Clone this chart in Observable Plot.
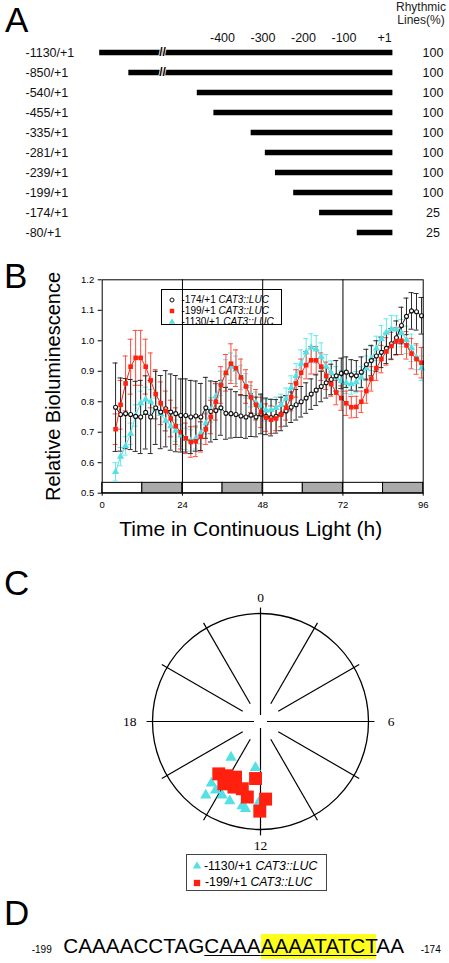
<!DOCTYPE html>
<html>
<head>
<meta charset="utf-8">
<script src="https://cdn.jsdelivr.net/npm/d3@7"></script>
<script src="https://cdn.jsdelivr.net/npm/@observablehq/plot@0.6"></script>
<style>
html,body{margin:0;padding:0;background:#fff;}
#page{position:relative;width:449px;height:963px;overflow:hidden;font-family:"Liberation Sans",Arial,Helvetica,sans-serif;color:#000;}
#page > svg{position:absolute;left:0;}
.abs{position:absolute;white-space:nowrap;}
.letter{font-size:35px;line-height:40px;}
</style>
</head>
<body>
<div id="page"></div>
<script>
// ================= DATA =================
// Panel A: promoter deletion constructs
const constructs = ["-1130/+1","-850/+1","-540/+1","-455/+1","-335/+1","-281/+1","-239/+1","-199/+1","-174/+1","-80/+1"];
const drawnStart = [-723,-651,-482,-441,-349,-314,-289,-244,-180,-87]; // bar start as drawn on the schematic axis
const drawnEnd = 1;
const rhythmicPct = [100,100,100,100,100,100,100,100,25,25];
const axisATicks = [-400,-300,-200,-100,0];
const axisATickLabels = ["-400","-300","-200","-100","+1"];
const brokenRows = ["-1130/+1","-850/+1"];
const breakAt = -568;

// Panel B: bioluminescence time courses
const timeH = [4,5.5,7,8.5,10,11.5,13,14.5,16,17.5,19,20.5,22,23.5,25,26.5,28,29.5,31,32.5,34,35.5,37,38.5,40,41.5,43,44.5,46,47.5,49,50.5,52,53.5,55,56.5,58,59.5,61,62.5,64,65.5,67,68.5,70,71.5,73,74.5,76,77.5,79,80.5,82,83.5,85,86.5,88,89.5,91,92.5,94,95.5];
const bio174 = [0.782,0.758,0.761,0.758,0.752,0.75,0.765,0.75,0.78,0.766, 0.777,0.766,0.761,0.755,0.755,0.75,0.753,0.75,0.78,0.768, 0.771,0.78,0.762,0.761,0.758,0.753,0.75,0.756,0.75,0.76, 0.752,0.748,0.752,0.76,0.77,0.782,0.79,0.80,0.812,0.825, 0.838,0.85,0.862,0.873,0.885,0.893,0.897,0.888,0.885,0.897, 0.922,0.935,0.95,0.962,0.975,0.99,1.01,1.05,1.08,1.098, 1.095,1.082];
const err174 = [0.145,0.12,0.115,0.115,0.115,0.12,0.12,0.12,0.12,0.12, 0.125,0.125,0.125,0.12,0.12,0.12,0.115,0.11,0.1,0.1, 0.095,0.09,0.085,0.08,0.075,0.07,0.07,0.07,0.065,0.065, 0.06,0.06,0.055,0.055,0.05,0.05,0.05,0.05,0.05,0.05, 0.05,0.05,0.05,0.05,0.05,0.05,0.05,0.05,0.05,0.05, 0.05,0.05,0.05,0.05,0.05,0.05,0.055,0.06,0.06,0.06, 0.06,0.06];
const bio199 = [0.71,0.79,0.86,0.915,0.944,0.944,0.915,0.87,0.825,0.795, 0.77,0.745,0.72,0.70,0.68,0.668,0.67,0.685,0.71,0.75, 0.80,0.855,0.895,0.925,0.91,0.88,0.85,0.815,0.79,0.765, 0.748,0.741,0.745,0.758,0.78,0.815,0.86,0.895,0.92,0.936, 0.936,0.915,0.885,0.858,0.83,0.812,0.795,0.782,0.783,0.80, 0.835,0.875,0.91,0.94,0.965,0.983,0.998,1.0,0.985,0.958, 0.94,0.928];
const err199 = [0.05,0.08,0.09,0.09,0.09,0.09,0.09,0.09,0.08,0.07, 0.065,0.06,0.06,0.055,0.05,0.05,0.05,0.05,0.05,0.055, 0.06,0.06,0.06,0.065,0.06,0.06,0.055,0.05,0.05,0.05, 0.045,0.045,0.04,0.04,0.04,0.045,0.045,0.045,0.045,0.045, 0.045,0.045,0.045,0.04,0.04,0.04,0.04,0.035,0.035,0.035, 0.04,0.04,0.04,0.045,0.045,0.045,0.045,0.045,0.045,0.05, 0.05,0.05];
const bio1130 = [0.57,0.62,0.655,0.695,0.755,0.795,0.808,0.80,0.777,0.76, 0.738,0.72,0.705,0.69,0.678,0.673,0.68,0.697,0.73,0.773, 0.818,0.86,0.893,0.915,0.905,0.88,0.852,0.818,0.797,0.787, 0.772,0.773,0.78,0.79,0.81,0.845,0.885,0.925,0.962,0.978, 0.972,0.948,0.915,0.894,0.88,0.868,0.862,0.858,0.864,0.88, 0.91,0.942,0.975,1.005,1.027,1.038,1.037,1.025,1.003,0.977, 0.945,0.91];
const err1130 = [0.03,0.03,0.03,0.035,0.035,0.04,0.04,0.04,0.035,0.035, 0.035,0.035,0.035,0.035,0.035,0.035,0.035,0.035,0.035,0.04, 0.04,0.04,0.045,0.045,0.045,0.04,0.04,0.035,0.035,0.035, 0.035,0.035,0.035,0.035,0.035,0.04,0.04,0.045,0.045,0.045, 0.045,0.045,0.04,0.04,0.035,0.035,0.035,0.035,0.035,0.035, 0.04,0.04,0.04,0.045,0.045,0.045,0.045,0.045,0.045,0.045, 0.04,0.04];
const ldStart = [0,12,24,36,48,60,72,84];
const ldEnd = [12,24,36,48,60,72,84,96];
const ldPhase = ["light","dark","light","dark","light","dark","light","dark"];
const ldBandTop = 0.534;
const timeTicks = [0,24,48,72,96];
const bioTicks = [0.5,0.6,0.7,0.8,0.9,1.0,1.1,1.2];
const dayLines = [24,48,72];

// Panel C: phase (h) and relative amplitude of individual lines
const phase1130 = [14.63,12.42,14.57,14.44,14.21,13.83,13.41,12.82,12.65,12.08];
const amp1130 = [0.43,0.43,0.73,0.85,0.76,0.77,0.79,0.80,0.82,0.75];
const phase199 = [14.57,14.11,13.61,12.33,14.03,13.47,13.01,12.66,11.75,12.03];
const amp199 = [0.62,0.59,0.565,0.53,0.67,0.655,0.645,0.71,0.72,0.83];
const spokeHours = [0,2,4,6,8,10,12,14,16,18,20,22];
const clockLabels = [0,6,12,18];

// Panel D: sequence
const seqFrom = "-199", seqTo = "-174";
const seqHead = "CAAAACCTAG", seqUnder = "CAAA", seqEE = "AAAATATCT", seqTail = "AA";

// ================= STYLE =================
const FONT = '"Liberation Sans", Arial, Helvetica, sans-serif';
const W = 449;
const cRed = "#ff2010", cRedErr = "#ff4c3c";
const cCyan = "#55e0e6", cCyanErr = "#6ae8ec";
const cBlack = "#111", cBlackErr = "#2a2a2a";
const page = document.getElementById("page");
function put(el, top) { el.style.top = top + "px"; page.appendChild(el); return el; }
function html(left, top, inner, style = "") {
  const d = document.createElement("div");
  d.className = "abs";
  d.style.cssText += `left:${left}px;top:${top}px;${style}`;
  d.innerHTML = inner;
  page.appendChild(d);
  return d;
}
const baseStyle = {background: "transparent", fontFamily: FONT, color: "#000", overflow: "visible"};

// ================= PANEL A =================
const rowsA = constructs.map((c, i) => ({label: c, start: drawnStart[i], end: drawnEnd, pct: rhythmicPct[i]}));
const ticksA = axisATicks.map((v, i) => ({v, label: axisATickLabels[i]}));
const breaksA = brokenRows.map(r => ({label: r, at: breakAt}));
const plotA = Plot.plot({
  width: W, height: 250,
  marginLeft: 68, marginRight: 16.5, marginTop: 48.5, marginBottom: 14.3,
  style: baseStyle,
  x: {domain: [-800, 100], axis: null},
  y: {type: "point", domain: constructs, padding: 0, axis: null},
  marks: [
    Plot.ruleY(rowsA, {y: "label", x1: "start", x2: "end", stroke: "#000", strokeWidth: 5.5}),
    Plot.text(breaksA, {x: "at", y: "label", text: () => "//", fontSize: 12, fontWeight: "bold", fill: "#000", stroke: "#fff", strokeWidth: 1.6, paintOrder: "stroke"}),
    Plot.text(rowsA, {y: "label", text: "label", frameAnchor: "left", textAnchor: "start", dx: -43, fontSize: 12.5, fill: "#111"}),
    Plot.text(rowsA, {y: "label", text: d => String(d.pct), frameAnchor: "right", textAnchor: "middle", fontSize: 12.5, fill: "#111"}),
    Plot.text(ticksA, {x: "v", text: "label", frameAnchor: "top", dy: -16, dx: -8, fontSize: 12.5, fill: "#111"})
  ]
});
put(plotA, 0);
html(381, 1, "Rhythmic<br>Lines(%)", "width:80px;text-align:center;font-size:12px;line-height:13px;color:#222;");

// ================= PANEL B =================
const mkRows = (vals, errs) => timeH.map((t, i) => ({t, v: vals[i], e: errs[i]}));
const sCyan = {rows: mkRows(bio1130, err1130), color: cCyan, err: cCyanErr, symbol: "triangle", r: 2.7};
const sRed = {rows: mkRows(bio199, err199), color: cRed, err: cRedErr, symbol: "square", r: 2.6};
const sBlack = {rows: mkRows(bio174, err174), color: cBlack, err: cBlackErr, symbol: "circle", r: 2};
const capHalf = 0.75;
const errMarks = s => [
  Plot.ruleX(s.rows, {x: "t", y1: d => d.v - d.e, y2: d => d.v + d.e, stroke: s.err, strokeWidth: 1}),
  Plot.ruleY(s.rows, {y: d => d.v + d.e, x1: d => d.t - capHalf, x2: d => d.t + capHalf, stroke: s.err, strokeWidth: 1}),
  Plot.ruleY(s.rows, {y: d => d.v - d.e, x1: d => d.t - capHalf, x2: d => d.t + capHalf, stroke: s.err, strokeWidth: 1})
];
const lineMarks = s => [
  Plot.line(s.rows, {x: "t", y: "v", stroke: s.color, strokeWidth: 1}),
  s.symbol === "circle"
    ? Plot.dot(s.rows, {x: "t", y: "v", r: s.r, fill: "#fff", stroke: s.color, strokeWidth: 1.1})
    : Plot.dot(s.rows, {x: "t", y: "v", r: s.r, symbol: s.symbol, fill: s.color, stroke: "none"})
];
const ld = ldStart.map((s, i) => ({x1: s, x2: ldEnd[i], phase: ldPhase[i]}));
const plotB = Plot.plot({
  width: W, height: 285,
  marginLeft: 101.7, marginRight: 26.3, marginTop: 19.3, marginBottom: 52.3,
  style: baseStyle,
  x: {domain: [0, 96], axis: null},
  y: {domain: [0.5, 1.2], axis: null},
  marks: [
    Plot.rect(ld, {x1: "x1", x2: "x2", y1: () => 0.5, y2: () => ldBandTop, fill: d => d.phase === "dark" ? "#aaaaaa" : "#fff", stroke: "#000", strokeWidth: 1}),
    ...errMarks(sCyan), ...errMarks(sRed), ...errMarks(sBlack),
    ...lineMarks(sCyan), ...lineMarks(sBlack), ...lineMarks(sRed),
    Plot.ruleX(dayLines, {x: d => d, stroke: "#000", strokeWidth: 1}),
    Plot.frame({stroke: "#000", strokeWidth: 1}),
    Plot.axisY({ticks: bioTicks, tickFormat: d3.format(".1f"), tickSize: 4, tickPadding: 4, fontSize: 9.5, label: null}),
    Plot.axisX({ticks: timeTicks, tickFormat: d => String(d), tickSize: 3, tickPadding: 5, fontSize: 9.5, label: null}),
    Plot.text(["Relative Bioluminescence"], {text: d => d, frameAnchor: "left", textAnchor: "middle", lineAnchor: "middle", rotate: -90, dx: -49, fontSize: 20}),
    Plot.text(["Time in Continuous Light (h)"], {text: d => d, frameAnchor: "bottom", textAnchor: "middle", lineAnchor: "middle", dx: -12, dy: 36, fontSize: 21})
  ]
});
put(plotB, 260);

// legends (HTML)
function markerSvg(symbol, color, area, open) {
  const sym = {circle: d3.symbolCircle, square: d3.symbolSquare, triangle: d3.symbolTriangle}[symbol];
  const p = d3.symbol(sym, area)();
  return `<svg width="14" height="14" viewBox="-7 -7 14 14" style="position:absolute;left:-7px;top:-7px;overflow:visible"><path d="${p}" fill="${open ? "#fff" : color}" stroke="${open ? color : "none"}" stroke-width="1"/></svg>`;
}
function legend(box, items, fontSize) {
  const d = html(box.left, box.top, "", `width:${box.width}px;height:${box.height}px;border:1px solid ${box.border};box-sizing:border-box;`);
  const lh = fontSize * 1.2;
  items.forEach(it => {
    const m = document.createElement("div");
    m.className = "abs";
    m.style.cssText += `left:${it.mx - box.left - 1}px;top:${it.y - box.top - 1}px;width:0;height:0;`;
    m.innerHTML = markerSvg(it.symbol, it.color, it.area, it.open);
    d.appendChild(m);
    const t = document.createElement("div");
    t.className = "abs";
    t.style.cssText += `left:${it.tx - box.left - 1}px;top:${it.y - box.top - 1 - lh / 2}px;font-size:${fontSize}px;line-height:${lh}px;`;
    t.innerHTML = `${it.label} <i>CAT3::LUC</i>`;
    d.appendChild(t);
  });
}
legend({left: 161, top: 289, width: 121, height: 36, border: "#000"}, [
  {y: 300, mx: 171.7, tx: 181.5, symbol: "circle", color: "#111", area: 13, open: true, label: "-174/+1"},
  {y: 311, mx: 171.7, tx: 181.5, symbol: "square", color: cRed, area: 20, label: "-199/+1"},
  {y: 322, mx: 171.7, tx: 181.5, symbol: "triangle", color: cCyan, area: 18, label: "-1130/+1"}
], 10);

// ================= PANEL C =================
const polar = (h, r) => ({x: r * Math.sin(h / 24 * 2 * Math.PI), y: r * Math.cos(h / 24 * 2 * Math.PI)});
const pts1130 = phase1130.map((h, i) => polar(h, amp1130[i]));
const pts199 = phase199.map((h, i) => polar(h, amp199[i]));
const unitPx = 108;
const spokes = spokeHours.map(h => {
  const inner = h % 6 === 0 ? 0.06 : 0.19, outer = 1.055;
  const a = polar(h, inner), b = polar(h, outer);
  return {x1: a.x, y1: a.y, x2: b.x, y2: b.y};
});
const labelsC = clockLabels.map(h => {
  const s = Math.abs(Math.sin(h / 24 * 2 * Math.PI));
  return {...polar(h, 1.15 + 0.06 * s), text: String(h)};
});
const plotC = Plot.plot({
  width: W, height: 290,
  marginLeft: 130.4, marginRight: 59.4, marginTop: 11.4, marginBottom: 19.4,
  style: baseStyle,
  x: {domain: [-1.2, 1.2], axis: null},
  y: {domain: [-1.2, 1.2], axis: null},
  marks: [
    Plot.dot([{x: 0, y: 0}], {x: "x", y: "y", r: unitPx, fill: "none", stroke: "#000", strokeWidth: 1.3}),
    Plot.link(spokes, {x1: "x1", y1: "y1", x2: "x2", y2: "y2", stroke: "#000", strokeWidth: 1.2}),
    Plot.text(labelsC, {x: "x", y: "y", text: "text", fontFamily: '"Liberation Serif", "Times New Roman", serif', fontSize: 13.5}),
    Plot.dot(pts1130, {x: "x", y: "y", symbol: "triangle", r: 4.2, fill: cCyan, stroke: "none"}),
    Plot.dot(pts199, {x: "x", y: "y", symbol: "square", r: 7.3, fill: cRed, stroke: "none"})
  ]
});
put(plotC, 580);
legend({left: 185.7, top: 854.3, width: 141.6, height: 36.7, border: "#444"}, [
  {y: 866, mx: 196.7, tx: 204, symbol: "triangle", color: cCyan, area: 30, label: "-1130/+1"},
  {y: 882.7, mx: 196.7, tx: 205, symbol: "square", color: cRed, area: 40, label: "-199/+1"}
], 12.3);

// ================= PANEL D =================
html(31.7, 943.5, seqFrom, "font-size:10px;line-height:12px;");
html(63.3, 933.8, `${seqHead}<span style="text-decoration:underline;text-decoration-thickness:1px;text-underline-offset:2px;">${seqUnder}<span style="background:#ffff1e;padding-bottom:2px;">${seqEE}</span></span>${seqTail}`, "font-size:20.7px;line-height:24px;");
html(420.7, 943.5, seqTo, "font-size:10px;line-height:12px;");

// ================= PANEL LETTERS =================
html(5, 0, "A", "").className = "abs letter";
html(4, 256, "B", "").className = "abs letter";
html(4, 563, "C", "").className = "abs letter";
html(4, 893, "D", "").className = "abs letter";
</script>
</body>
</html>
